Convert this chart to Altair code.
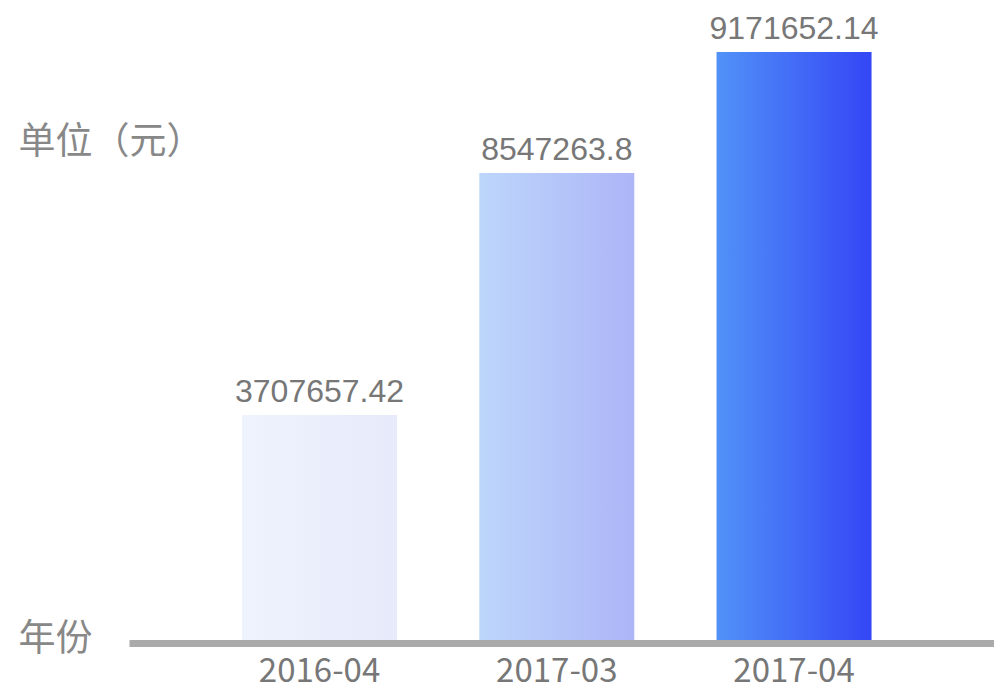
import altair as alt
import pandas as pd

# ---- data ----
months = ["2016-04", "2017-03", "2017-04"]
amounts = [3707657.42, 8547263.8, 9171652.14]
amount_labels = ["3707657.42", "8547263.8", "9171652.14"]

# ---- styles ----
grad_left = ["#eef3fd", "#bdd6fb", "#5192f8"]
grad_right = ["#e7eafa", "#adb5f7", "#3446f5"]

df = pd.DataFrame({"month": months, "amount": amounts, "label": amount_labels})

x_enc = alt.X(
    "month:N",
    sort=months,
    title="年份",
    scale=alt.Scale(domain=months, paddingInner=0.3467, paddingOuter=0.4963, align=0.48),
    axis=alt.Axis(
        labelAngle=0,
        domainColor="#aaaaaa",
        domainWidth=7,
        ticks=False,
        grid=False,
        labelFont="Noto Sans CJK SC",
        labelFontSize=33,
        labelColor="#777777",
        labelPadding=12,
        titleFont="Noto Sans CJK SC",
        titleFontSize=37,
        titleFontWeight="normal",
        titleColor="#888888",
        titleAngle=0,
        titleAlign="left",
        titleBaseline="middle",
        titleX=-111,
        titleY=-4,
        zindex=1,
    ),
)

# piecewise-linear value scale reproducing the drawn bar heights
y_enc = alt.Y(
    "amount:Q",
    title="单位（元）",
    scale=alt.Scale(domain=[0] + amounts, range=[643, 415, 173, 52], zero=False, nice=False),
    axis=alt.Axis(
        domain=False,
        ticks=False,
        labels=False,
        grid=False,
        titleFont="Noto Sans CJK SC",
        titleFontSize=37,
        titleFontWeight="normal",
        titleColor="#888888",
        titleAngle=0,
        titleAlign="left",
        titleBaseline="middle",
        titleX=-111,
        titleY=142,
    ),
)

layers = []
for m, cl, cr in zip(months, grad_left, grad_right):
    grad = {
        "gradient": "linear",
        "x1": 0, "x2": 1, "y1": 0, "y2": 0,
        "stops": [{"offset": 0, "color": cl}, {"offset": 1, "color": cr}],
    }
    layers.append(
        alt.Chart(df)
        .transform_filter(alt.datum.month == m)
        .mark_bar(color=grad, cornerRadius=0)
        .encode(x=x_enc, y=y_enc)
    )

text = (
    alt.Chart(df)
    .mark_text(
        font="Liberation Sans",
        fontSize=32,
        color="#777777",
        baseline="alphabetic",
        align="center",
        dy=-13,
    )
    .encode(x=x_enc, y=y_enc, text="label:N")
)

chart = (
    alt.layer(*layers, text)
    .properties(
        width=865,
        height=643,
        autosize=alt.AutoSizeParams(type="none"),
        padding={"left": 129, "top": 0, "right": 0, "bottom": 47},
        background="white",
    )
    .configure_view(stroke=None)
)

chart.save("out.html", embed_options={"renderer": "svg", "actions": False})
